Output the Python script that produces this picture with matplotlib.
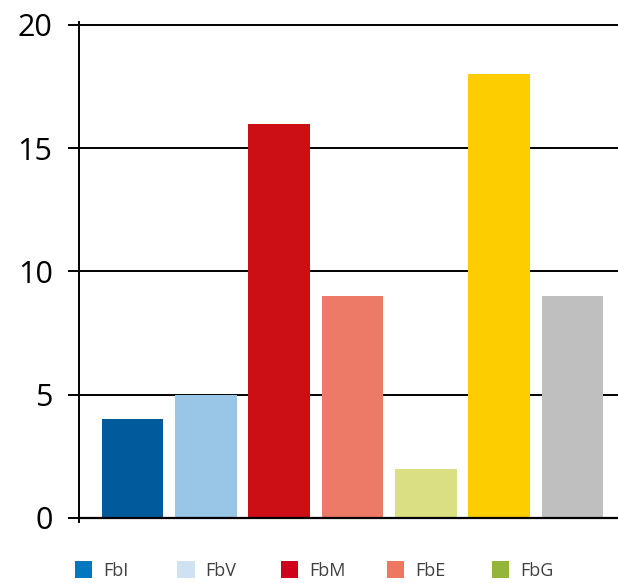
import matplotlib.pyplot as plt
from matplotlib.patches import Patch

plt.rcParams['font.family'] = ['Open Sans', 'DejaVu Sans']

# bar values, left to right
values = [4, 5, 16, 9, 2, 18, 9]
bar_colors = ['#005a9c', '#99c5e6', '#cc0e15', '#ec7a66', '#d9df82', '#fdcd00', '#bfbfbf']

# legend (only five entries in the original)
legend_labels = ['FbI', 'FbV', 'FbM', 'FbE', 'FbG']
legend_colors = ['#0077be', '#d0e1f2', '#d0021b', '#ee7762', '#93b53a']

yticks = [0, 5, 10, 15, 20]

fig = plt.figure(figsize=(6.18, 5.83), dpi=100)
ax = fig.add_axes([0.1278, 0.1046, 0.8722, 0.8577])

x = list(range(len(values)))
ax.bar(x, values, width=0.84, color=bar_colors, zorder=2)

ax.set_xlim(-0.73, len(values) - 1 + 0.62)
ax.set_ylim(-0.17, 20.12)
ax.set_yticks(yticks)
ax.set_yticklabels([str(t) for t in yticks], fontsize=22)
ax.set_xticks([])

ax.yaxis.grid(True, color='black', linewidth=1.4, zorder=1)
ax.set_axisbelow(True)
ax.axhline(0, color='black', linewidth=1.6, zorder=3)
ax.tick_params(axis='y', length=8, width=1.4, color='black', pad=11)

for s in ['top', 'right', 'bottom']:
    ax.spines[s].set_visible(False)
ax.spines['left'].set_linewidth(1.4)

# one legend entry per slot, evenly spread under the chart
legend_x = [0.121, 0.287, 0.455, 0.626, 0.796]
for lx, lab, col in zip(legend_x, legend_labels, legend_colors):
    fig.legend([Patch(facecolor=col, edgecolor='none')], [lab],
               loc='center left', bbox_to_anchor=(lx, 0.0214),
               frameon=False, fontsize=13, labelcolor='#404040',
               handlelength=0.95, handleheight=1.05, handletextpad=0.6,
               borderaxespad=0, borderpad=0)

fig.savefig('out.png', dpi=100)
